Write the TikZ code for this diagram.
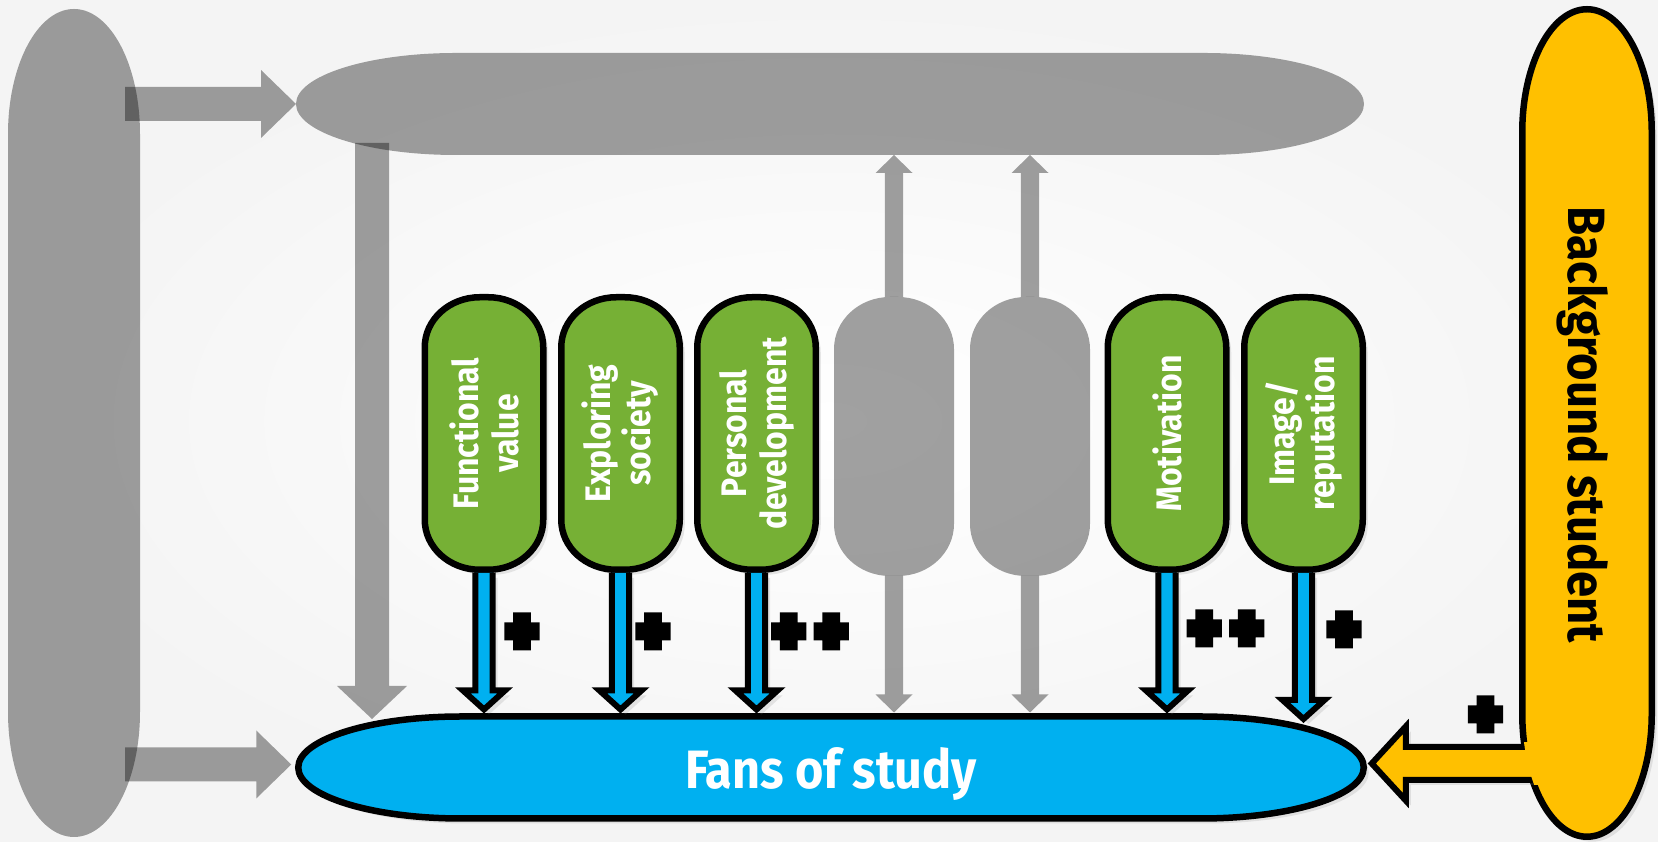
\documentclass[tikz,border=0pt]{standalone}
\usepackage{fontspec}
\usetikzlibrary{calc,shadows}
\newfontfamily\lbl[FakeStretch=0.9]{Fira Sans}
\newfontfamily\plusfont[FakeStretch=0.9,FakeBold=16]{Fira Sans}
\definecolor{cgreen}{RGB}{118,176,53}
\definecolor{cblue}{RGB}{0,176,240}
\definecolor{cyellow}{RGB}{255,192,0}
\definecolor{cbg}{RGB}{244,244,244}

% stadium with elliptical corners around a named (invisible) node
\newcommand\capsulepath[4]{%
 \path[#1] let \p1=(#2.north west), \p2=(#2.south east) in
  (\x1+#3,\y1) -- (\x2-#3,\y1)
  .. controls (\x2-0.4477*#3,\y1) and (\x2,\y1-0.4477*#4) .. (\x2,\y1-#4)
  -- (\x2,\y2+#4)
  .. controls (\x2,\y2+0.4477*#4) and (\x2-0.4477*#3,\y2) .. (\x2-#3,\y2)
  -- (\x1+#3,\y2)
  .. controls (\x1+0.4477*#3,\y2) and (\x1,\y2+0.4477*#4) .. (\x1,\y2+#4)
  -- (\x1,\y1-#4)
  .. controls (\x1,\y1-0.4477*#4) and (\x1+0.4477*#3,\y1) .. (\x1+#3,\y1) -- cycle;}

% block arrow: #1 fill style, #2 outline style, #3 start, #4 tip, #5 half body, #6 half head, #7 head length
\newcommand\blockarrow[7]{%
 \coordinate (ba-s) at (#3);
 \coordinate (ba-e) at (#4);
 \coordinate (ba-c) at ($(ba-e)!#7!(ba-s)$);
 \coordinate (ba-1) at ($(ba-s)!#5!90:(ba-e)$);
 \coordinate (ba-2) at ($(ba-c)!#5!90:(ba-e)$);
 \coordinate (ba-3) at ($(ba-c)!#6!90:(ba-e)$);
 \coordinate (ba-4) at ($(ba-c)!#6!-90:(ba-e)$);
 \coordinate (ba-5) at ($(ba-c)!#5!-90:(ba-e)$);
 \coordinate (ba-6) at ($(ba-s)!#5!-90:(ba-e)$);
 \fill[#1] (ba-1) -- (ba-2) -- (ba-3) -- (ba-e) -- (ba-4) -- (ba-5) -- (ba-6) -- cycle;
 \draw[#2] (ba-1) -- (ba-2) -- (ba-3) -- (ba-e) -- (ba-4) -- (ba-5) -- (ba-6);
}

\tikzset{
 box/.style={rectangle, inner sep=0pt, outer sep=0pt, draw=none},
 shad/.style={drop shadow={opacity=0.18, shadow xshift=5pt, shadow yshift=-5pt}},
 grayfill/.style={fill=black, fill opacity=0.37},
 greencap/.style={fill=cgreen, draw=black, line width=6.5pt, shad},
 fanscap/.style={fill=cblue, draw=black, line width=6.5pt, shad},
 yellowcap/.style={fill=cyellow, draw=black, line width=6.5pt, shad},
 bluefill/.style={fill=cblue, shad},
 yellowfill/.style={fill=cyellow, shad},
 blackline/.style={draw=black, line width=6pt, line join=miter},
 grtext/.style={text=white, font=\lbl\bfseries\fontsize{35.5}{40}\selectfont, align=center, rotate=90, inner sep=0pt},
 plussign/.style={text=black, font=\plusfont\bfseries\fontsize{64}{64}\selectfont, inner sep=0pt},
}

\begin{document}
\begin{tikzpicture}[x=1pt,y=1pt]
\useasboundingbox (0,0) rectangle (1658,842);
\shade[inner color=white, outer color=cbg] (0,0) rectangle (1658,842);

% invisible frame nodes
\node[box, minimum width=132pt, minimum height=828pt] (left) at (74,419) {};
\node[box, minimum width=1068pt, minimum height=102pt] (top) at (830,738) {};
\node[box, minimum width=1065.5pt, minimum height=102pt] (fans) at (831,74.5) {};
\node[box, minimum width=129.5pt, minimum height=827.5pt] (bgs) at (1587,419) {};
\node[box, minimum width=118.5pt, minimum height=272.5pt] (f1) at (484,408.5) {};
\node[box, minimum width=118.5pt, minimum height=272.5pt] (f2) at (620.5,408.5) {};
\node[box, minimum width=118.5pt, minimum height=272.5pt] (f3) at (756.5,408.5) {};
\node[box, minimum width=120pt, minimum height=279pt] (g4) at (894,405.5) {};
\node[box, minimum width=120pt, minimum height=279pt] (g5) at (1030,405.5) {};
\node[box, minimum width=118.5pt, minimum height=272.5pt] (f6) at (1167,408.5) {};
\node[box, minimum width=118.5pt, minimum height=272.5pt] (f7) at (1303.5,408.5) {};

% shapes
\capsulepath{grayfill}{left}{66pt}{125pt}
\capsulepath{grayfill}{top}{160pt}{51pt}
\capsulepath{fanscap}{fans}{163pt}{51pt}
\capsulepath{yellowcap}{bgs}{64.75pt}{123pt}
\capsulepath{greencap}{f1}{55pt}{50pt}
\capsulepath{greencap}{f2}{55pt}{50pt}
\capsulepath{greencap}{f3}{55pt}{50pt}
\capsulepath{grayfill}{g4}{56pt}{52pt}
\capsulepath{grayfill}{g5}{56pt}{52pt}
\capsulepath{greencap}{f6}{55pt}{50pt}
\capsulepath{greencap}{f7}{55pt}{50pt}

% gray connectors
\coordinate (gdn) at (372,123);
\blockarrow{grayfill}{draw=none}{$(left.east |- top.west)+(-15,0)$}{top.west}{17pt}{34pt}{35pt}
\blockarrow{grayfill}{draw=none}{$(left.east |- fans.west)+(-15,3)$}{$(fans.west)+(-7,3)$}{17pt}{34pt}{35pt}
\blockarrow{grayfill}{draw=none}{$(top.south -| gdn)+(0,12)$}{gdn}{17pt}{35pt}{33pt}
\blockarrow{grayfill}{draw=none}{g4.north}{top.south -| g4.north}{9.2pt}{18.5pt}{18pt}
\blockarrow{grayfill}{draw=none}{g5.north}{top.south -| g5.north}{9.2pt}{18.5pt}{18pt}
\blockarrow{grayfill}{draw=none}{g4.south}{$(fans.north -| g4.south)+(0,4)$}{9.2pt}{18.5pt}{18pt}
\blockarrow{grayfill}{draw=none}{g5.south}{$(fans.north -| g5.south)+(0,4)$}{9.2pt}{18.5pt}{18pt}

% blue connectors
\coordinate (imgtip) at (1303.5,123);
\blockarrow{bluefill}{blackline}{$(f1.south)+(0,-3.25)$}{$(fans.north -| f1.south)+(0,7)$}{8.6pt}{21pt}{19pt}
\blockarrow{bluefill}{blackline}{$(f2.south)+(0,-3.25)$}{$(fans.north -| f2.south)+(0,7)$}{8.6pt}{21pt}{19pt}
\blockarrow{bluefill}{blackline}{$(f3.south)+(0,-3.25)$}{$(fans.north -| f3.south)+(0,7)$}{8.6pt}{21pt}{19pt}
\blockarrow{bluefill}{blackline}{$(f6.south)+(0,-3.25)$}{$(fans.north -| f6.south)+(0,7)$}{8.6pt}{21pt}{19pt}
\blockarrow{bluefill}{blackline}{$(f7.south)+(0,-3.25)$}{imgtip}{8.6pt}{21pt}{19pt}

% yellow connector
\blockarrow{yellowfill}{blackline}{$(bgs.west |- fans.east)+(26,4)$}{$(fans.east)+(8,4)$}{16.5pt}{37pt}{34pt}
\begin{scope}
\clip (1500,57.5) rectangle (1565,99.5);
\capsulepath{fill=cyellow}{bgs}{64.75pt}{123pt}
\end{scope}

% texts
\node[grtext] (t1) at (f1.center) {Functional\\value};
\node[grtext] (t2) at (f2.center) {Exploring\\society};
\node[grtext] (t3) at (f3.center) {Personal\\development};
\node[grtext] (t6) at (f6.center) {Motivation};
\node[grtext] (t7) at (f7.center) {Image/\\reputation};
\node[text=white, font=\lbl\bfseries\fontsize{54}{60}\selectfont, anchor=base, inner sep=0pt] (fanst) at ($(fans.center)+(0,-21)$) {Fans of study};
\node[text=black, font=\lbl\bfseries\fontsize{52.5}{60}\selectfont, anchor=base, rotate=-90, inner sep=0pt] (bgt) at ($(bgs.center)+(-19,-2)$) {Background student};

% plus signs
\node[plussign] (p1) at (522,207) {+};
\node[plussign] (p2) at (653,207) {+};
\node[plussign] (p3) at (810,207) {+\kern12pt+};
\node[plussign] (p6) at (1225.5,210) {+\kern12pt+};
\node[plussign] (p7) at (1344,209) {+};
\node[plussign] (p8) at (1485.5,124) {+};
\end{tikzpicture}
\end{document}
